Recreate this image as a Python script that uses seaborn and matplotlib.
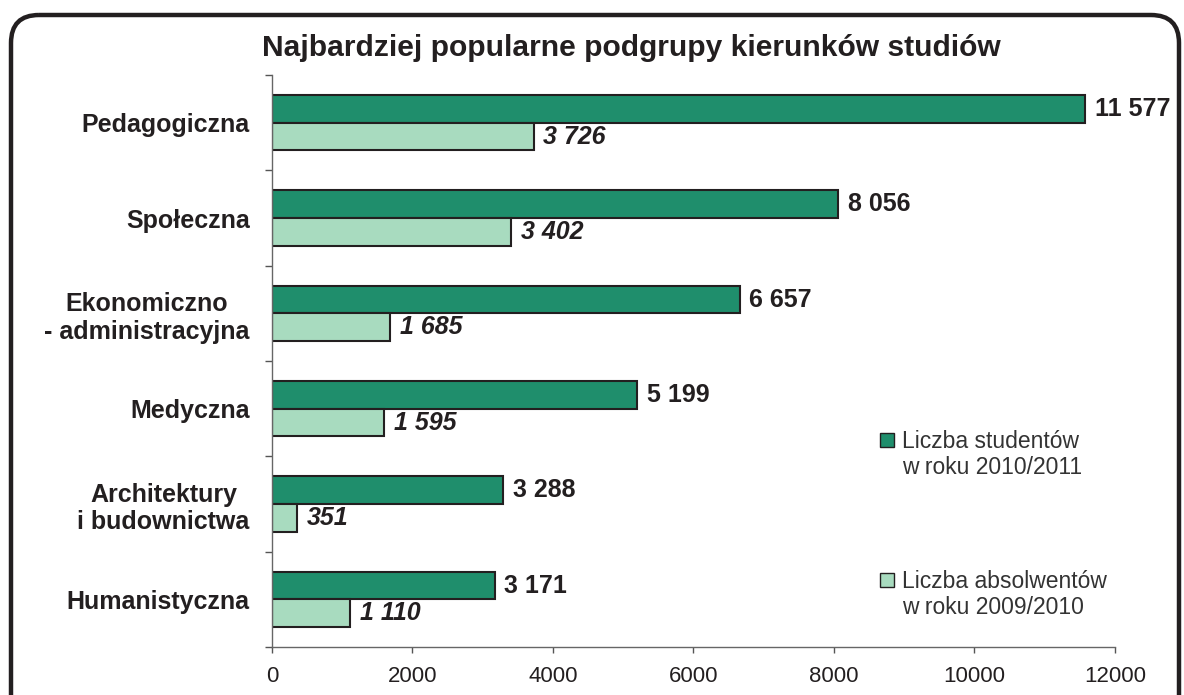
import pandas as pd
import matplotlib.pyplot as plt
import seaborn as sns
from matplotlib.patches import FancyBboxPatch, Patch

# dane
kategorie = ["Pedagogiczna", "Społeczna", "Ekonomiczno\n- administracyjna",
             "Medyczna", "Architektury\ni budownictwa", "Humanistyczna"]
studenci = [11577, 8056, 6657, 5199, 3288, 3171]
absolwenci = [3726, 3402, 1685, 1595, 351, 1110]
seria_1 = "Liczba studentów\nw roku 2010/2011"
seria_2 = "Liczba absolwentów\nw roku 2009/2010"
x_ticks = [0, 2000, 4000, 6000, 8000, 10000, 12000]

df = pd.DataFrame({
    "kategoria": kategorie * 2,
    "wartosc": studenci + absolwenci,
    "seria": [seria_1] * len(kategorie) + [seria_2] * len(kategorie),
})

sns.set_style("white")
plt.rcParams["font.family"] = ["Liberation Sans", "DejaVu Sans"]

ciemny = "#1F8E6C"
jasny = "#A8DBBF"
tekst = "#231F20"

fig = plt.figure(figsize=(11.84, 6.95), dpi=100)

# tlo z zaokraglona ramka (wspolrzedne w pikselach)
bg = fig.add_axes([0, 0, 1, 1])
bg.set_xlim(0, 1184)
bg.set_ylim(695, 0)
bg.axis("off")
bg.add_patch(FancyBboxPatch((11, 15), 1168, 720,
                            boxstyle="round,pad=0,rounding_size=28",
                            facecolor="none", edgecolor=tekst, linewidth=3.2))

ax = fig.add_axes([0.2297, 0.069, 0.712, 0.823])
ax.patch.set_alpha(0)

sns.barplot(data=df, y="kategoria", x="wartosc", hue="seria", orient="h",
            palette=[ciemny, jasny], saturation=1, width=0.58,
            edgecolor=tekst, linewidth=1.5, ax=ax, legend=False)

ax.set_xlim(0, 12000)
ax.set_ylim(len(kategorie) - 0.5, -0.5)
ax.set_xticks(x_ticks)
ax.set_xticklabels([str(t) for t in x_ticks], fontsize=16, color=tekst)
ax.set_xlabel("")
ax.set_ylabel("")
ax.tick_params(axis="y", which="major", length=0, pad=16)
for lab in ax.get_yticklabels():
    lab.set_fontsize(18)
    lab.set_fontweight("bold")
    lab.set_color(tekst)
    lab.set_multialignment("center")
ax.set_yticks([i - 0.5 for i in range(len(kategorie) + 1)], minor=True)
ax.tick_params(axis="y", which="minor", length=5, width=1, color="#555555", left=True)
ax.tick_params(axis="x", length=4, width=1, color="#555555", bottom=True, pad=10)

for s in ["top", "right"]:
    ax.spines[s].set_visible(False)
for s in ["left", "bottom"]:
    ax.spines[s].set_color("#666666")
    ax.spines[s].set_linewidth(1)

def fmt(v):
    return f"{v:,}".replace(",", " ")

ax.bar_label(ax.containers[0], labels=[fmt(v) for v in studenci], padding=7,
             fontsize=18, fontweight="bold", color=tekst)
ax.bar_label(ax.containers[1], labels=[fmt(v) for v in absolwenci], padding=7,
             fontsize=18, fontweight="bold", fontstyle="italic", color=tekst)

fig.text(631 / 1184, 1 - 48 / 695, "Najbardziej popularne podgrupy kierunków studiów",
         fontsize=21.6, fontweight="bold", color=tekst, ha="center", va="center")

# legenda: kwadrat przy pierwszej linii opisu
pusty = Patch(facecolor="none", edgecolor="none")
for kolor, seria, y in [(ciemny, seria_1, 1 - 430 / 695), (jasny, seria_2, 1 - 570 / 695)]:
    linie = seria.split("\n")
    leg = fig.legend(handles=[Patch(facecolor=kolor, edgecolor=tekst), pusty],
                     labels=linie, loc="upper left", bbox_to_anchor=(880 / 1184, y),
                     frameon=False, fontsize=16.5, handlelength=0.6, handleheight=0.6,
                     handletextpad=0.35, labelspacing=0.15, borderpad=0,
                     borderaxespad=0)
    for t in leg.get_texts():
        t.set_color("#333333")

fig.savefig("out.png", dpi=100)
